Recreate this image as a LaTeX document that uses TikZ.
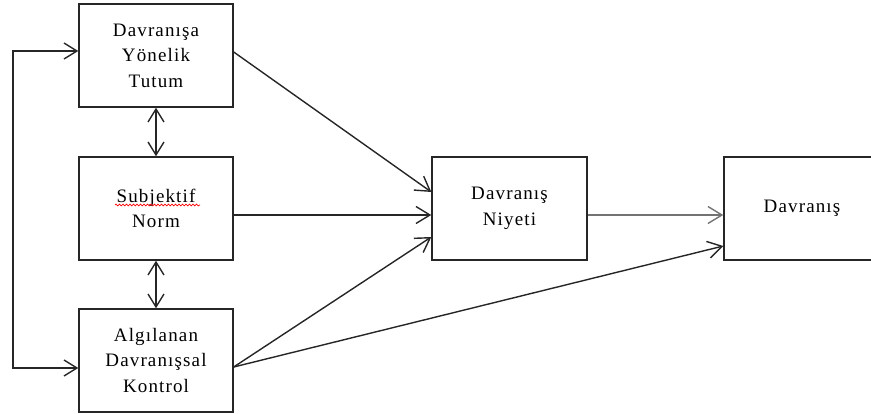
\documentclass[tikz,border=0pt]{standalone}
\usepackage{fontspec}
\setmainfont{Liberation Serif}
\newfontfamily\tnr[LetterSpace=6]{Liberation Serif}
\usetikzlibrary{arrows.meta,decorations.pathmorphing}
\begin{document}
\begin{tikzpicture}[x=1pt,y=-1pt,
  box/.style={draw=black!85,line width=1.4pt,rectangle,minimum width=154pt,minimum height=103pt,
    align=center,inner sep=0pt,font=\tnr\fontsize{19}{25.5}\selectfont,text=black},
  arr/.style={draw=black!85,line width=1.4pt,-{Straight Barb[length=14pt,width=17pt,line width=1.4pt]}},
  biarr/.style={draw=black!85,line width=1.4pt,{Straight Barb[length=13pt,width=16pt,line width=1.4pt]}-{Straight Barb[length=13pt,width=16pt,line width=1.4pt]}}]
\useasboundingbox (0,0) rectangle (871,414);
\node[box] (b1) at (156,55.5) {Davranışa\\Yönelik\\Tutum};
\node[box] (b2) at (156,208.5) {Subjektif\\Norm};
\node[box] (b3) at (156,360.5) {Algılanan\\Davranışsal\\Kontrol};
\node[box,minimum width=155pt] (b4) at (509.5,208.5) {Davranış\\Niyeti};
\node[box,minimum width=156pt] (b5) at (802,208.5) {Davranış};
\coordinate (lt) at (13,51);
\coordinate (lb) at (13,368);
\draw[red,line width=0.7pt,decorate,decoration={snake,amplitude=0.9pt,segment length=3.5pt}]
  ([xshift=-41pt,yshift=3.5pt]b2.center) -- ([xshift=44pt,yshift=3.5pt]b2.center);
\draw[biarr] ([yshift=4.5pt]b1.west) -- (lt) -- (lb) -- ([yshift=-7.5pt]b3.west);
\draw[biarr] (b1.south) -- (b2.north);
\draw[biarr] (b2.south) -- (b3.north);
\draw[arr] ([yshift=3.5pt]b1.east) -- ([yshift=16.5pt]b4.west);
\draw[arr] ([yshift=-6.5pt]b2.east) -- ([yshift=-6.5pt]b4.west);
\draw[arr] ([yshift=-6.5pt]b3.east) -- ([yshift=-28.5pt]b4.west);
\draw[arr] ([yshift=-6.5pt]b3.east) -- ([yshift=-37.5pt]b5.west);
\draw[arr,draw=black!55,line width=1.8pt] ([yshift=-6.5pt]b4.east) -- ([yshift=-6.5pt]b5.west);
\end{tikzpicture}
\end{document}
